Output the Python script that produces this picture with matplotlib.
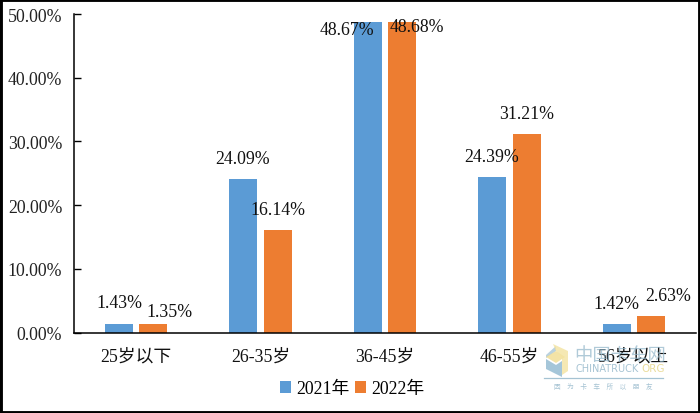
import numpy as np
import matplotlib.pyplot as plt
from matplotlib.patches import Rectangle, Polygon

categories = ['25岁以下', '26-35岁', '36-45岁', '46-55岁', '56岁以上']
years = ['2021年', '2022年']
values_2021 = [1.43, 24.09, 48.67, 24.39, 1.42]
values_2022 = [1.35, 16.14, 48.68, 31.21, 2.63]
yticks = [0, 10, 20, 30, 40, 50]

# hand placed label offsets in pixels, from top centre of each bar
offsets_2021 = [(0, 21), (-1, 21), (-21, -7.5), (-1, 21), (0, 20)]
offsets_2022 = [(16, 13), (0, 20), (15, -3.6), (0, 20), (17, 20)]

color = ['#5b9bd5', '#ed7d31']
fonts = ['Liberation Serif', 'Noto Sans CJK SC']
plt.rcParams['font.family'] = fonts
fs = 12.8
W, H = 700, 414


def fig_xy(px, py):
    return (px / W, 1 - py / H)


def logo_part(points, col):
    fig.add_artist(Polygon([fig_xy(*p) for p in points], closed=True, transform=fig.transFigure,
                           facecolor=col, edgecolor='none', alpha=0.8))


fig = plt.figure(figsize=(W / 100, H / 100), dpi=100)
ax = fig.add_axes([74 / W, (H - 333.7) / H, (696 - 74) / W, (333.7 - 15) / H])

x = np.arange(len(categories))
width = 0.225
bars1 = ax.bar(x - 0.138, values_2021, width, color=color[0], label=years[0])
bars2 = ax.bar(x + 0.138, values_2022, width, color=color[1], label=years[1])

for bars, vals, offs in [(bars1, values_2021, offsets_2021), (bars2, values_2022, offsets_2022)]:
    for b, v, o in zip(bars, vals, offs):
        ax.annotate('%.2f%%' % v, xy=(b.get_x() + b.get_width() / 2, v), xytext=o,
                    textcoords='offset pixels', ha='center', va='center', fontsize=fs, color='#111111')

ax.set_xlim(-0.5, 4.5)
ax.set_ylim(0, 50)
ax.set_yticks(yticks)
ax.set_yticklabels(['%.2f%%' % t for t in yticks], fontsize=fs, color='#222222')
ax.set_xticks(x)
ax.set_xticklabels(categories, fontsize=fs, color='#111111')
ax.tick_params(axis='x', length=0, pad=10.5)
ax.tick_params(axis='y', direction='in', length=5, width=1, pad=8.5)
ax.spines['top'].set_visible(False)
ax.spines['right'].set_visible(False)
ax.spines['left'].set_linewidth(1.1)
ax.spines['bottom'].set_linewidth(1.1)

fig.legend(handles=[bars1, bars2], loc='center', bbox_to_anchor=(352 / W, (H - 389.5) / H), ncol=2,
           frameon=False, fontsize=fs, handlelength=0.62, handleheight=0.62,
           handletextpad=0.3, columnspacing=0.3, borderpad=0)

# watermark
logo_part([(546, 356), (556, 347), (556, 352), (546, 359)], '#a9c7d8')
logo_part([(546, 360), (556, 366), (562, 362), (562, 378), (546, 370)], '#8fb8d0')
logo_part([(546, 358), (556, 352), (565, 358), (556, 364)], '#f0dc90')
logo_part([(553, 345), (568, 352), (568, 372), (562, 376), (562, 358), (556, 352)], '#f3e3a0')
wm = '#8fb4c8'
fig.text(*fig_xy(620, 357), '中国卡车网', ha='center', va='center', fontsize=13.2, color=wm, alpha=0.7)
fig.text(*fig_xy(576, 369), 'CHINATRUCK', ha='left', va='center', fontsize=7, color=wm,
         family=['DejaVu Sans'], alpha=0.8)
fig.text(*fig_xy(653, 369), 'ORG', ha='center', va='center', fontsize=7.5, color='#e8d890',
         family=['DejaVu Sans'], alpha=0.9)
fig.add_artist(plt.Line2D([544 / W, 663 / W], [1 - 379 / H] * 2, color=wm, lw=0.9, alpha=0.8))
fig.text(*fig_xy(603, 386), '因    为    卡    车    所    以    朋    友', ha='center', va='center',
         fontsize=4.8, color=wm, alpha=0.8)

# black frame round the picture
fig.add_artist(Rectangle((0, 0), 1, 1, transform=fig.transFigure, fill=False, edgecolor='black', linewidth=3.5))

fig.savefig('out.png', dpi=100)
